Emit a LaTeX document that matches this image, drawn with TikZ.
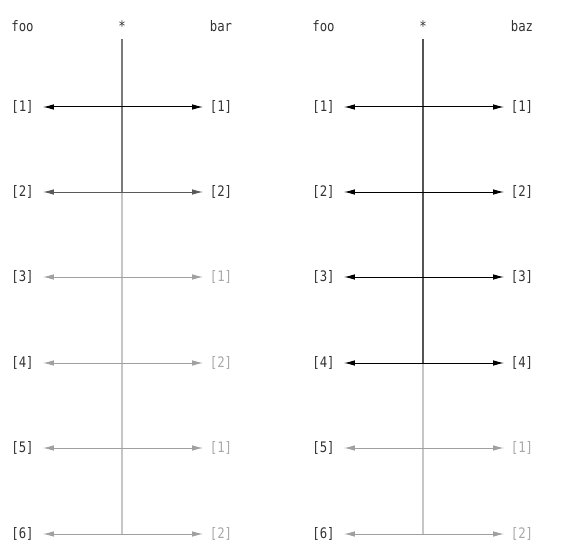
\documentclass[tikz,border=0pt]{standalone}
\usepackage{fontspec}
\setmonofont[FakeStretch=0.85]{DejaVu Sans Mono}
\usetikzlibrary{arrows.meta}
\definecolor{actline}{HTML}{000000}
\definecolor{semiline}{HTML}{5A5A5A}
\definecolor{offline}{HTML}{A0A0A0}
\definecolor{vdark}{HTML}{7A7A7A}
\definecolor{vdarkb}{HTML}{555555}
\definecolor{vlight}{HTML}{C6C6C6}
\definecolor{lbltext}{HTML}{333333}
\definecolor{lbloff}{HTML}{A8A8A8}
\begin{document}
\begin{tikzpicture}[x=1pt,y=-1pt,
  txt/.style={font=\ttfamily\fontsize{14.5}{17}\selectfont, inner sep=0pt, text=lbltext},
  head/.style={txt, anchor=base},
  lbl/.style={txt, anchor=center},
  lbloffst/.style={lbl, text=lbloff},
  link/.style={{Latex[length=11pt,width=5.5pt]}-{Latex[length=11pt,width=5.5pt]}, line width=1pt, shorten <=9pt, shorten >=6.5pt},
  vert/.style={line width=1.4pt}
]
\useasboundingbox (0,0) rectangle (575,556);

% ---------- left diagram ----------
\node[head] (Afoo) at (22.5,32) {foo};
\node[head] (Astar) at (122,32) {*};
\node[head] (Abar) at (221,32) {bar};
\coordinate (Atop) at (122,39);
\coordinate (Amid) at (122,192);
\coordinate (Abot) at (122,534);
\draw[vert, vdark] (Atop) -- (Amid);
\draw[vert, vlight] (Amid) -- (Abot);

\foreach \i/\r/\y/\st/\ls in {1/1/107/actline/lbl, 2/2/192/semiline/lbl, 3/1/277/offline/lbloffst, 4/2/363/offline/lbloffst, 5/1/448/offline/lbloffst, 6/2/534/offline/lbloffst} {
  \node[lbl] (AL\i) at (22.5,\y) {[\i]};
  \node[\ls] (AR\i) at (221,\y) {[\r]};
  \draw[link, \st] (AL\i) -- (AR\i);
}

% ---------- right diagram ----------
\node[head] (Bfoo) at (323.5,32) {foo};
\node[head] (Bstar) at (423,32) {*};
\node[head] (Bbaz) at (522,32) {baz};
\coordinate (Btop) at (423,39);
\coordinate (Bmid) at (423,363);
\coordinate (Bbot) at (423,534);
\draw[vert, vdarkb] (Btop) -- (Bmid);
\draw[vert, vlight] (Bmid) -- (Bbot);

\foreach \i/\r/\y/\st/\ls in {1/1/107/actline/lbl, 2/2/192/actline/lbl, 3/3/277/actline/lbl, 4/4/363/actline/lbl, 5/1/448/offline/lbloffst, 6/2/534/offline/lbloffst} {
  \node[lbl] (BL\i) at (323.5,\y) {[\i]};
  \node[\ls] (BR\i) at (522,\y) {[\r]};
  \draw[link, \st] (BL\i) -- (BR\i);
}
\end{tikzpicture}
\end{document}
